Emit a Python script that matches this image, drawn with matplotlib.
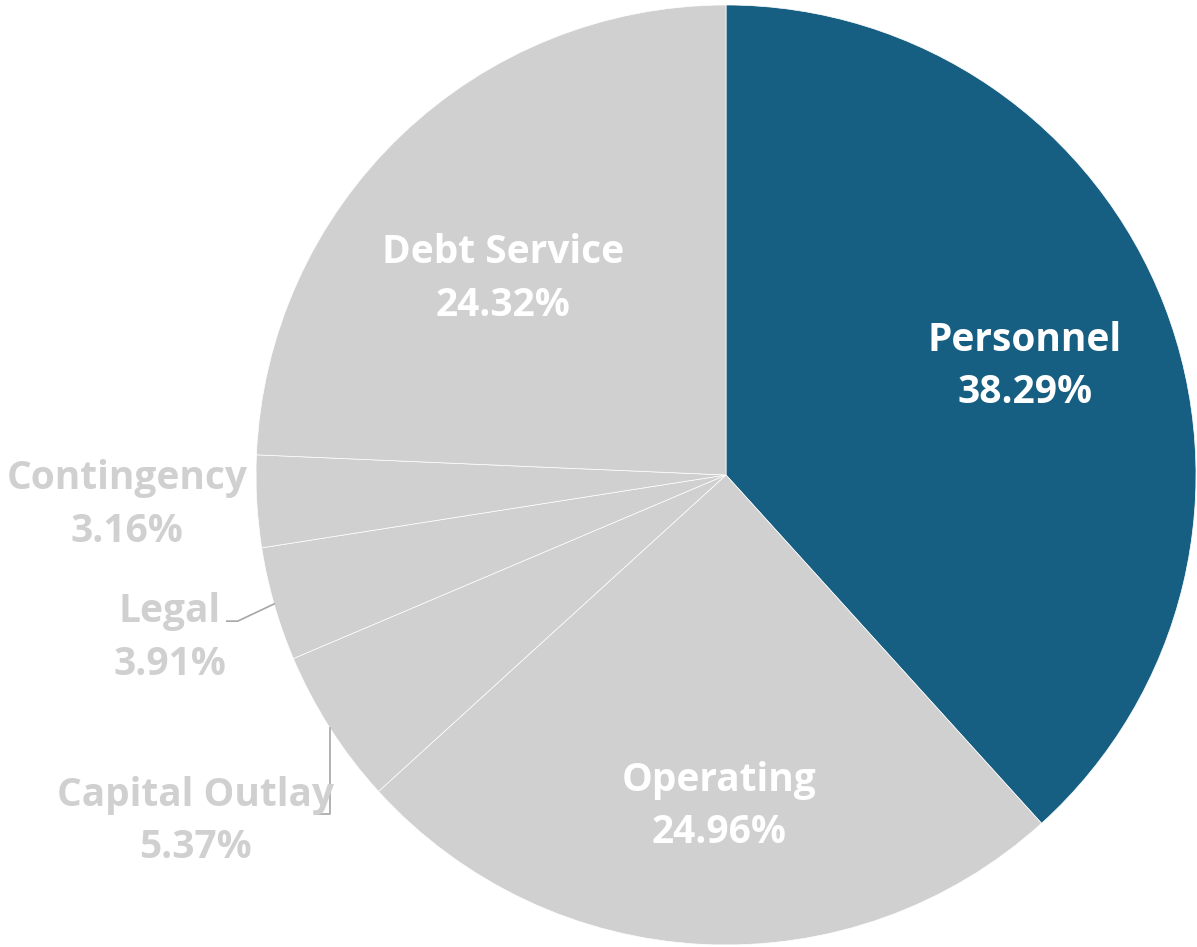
import numpy as np
import matplotlib.pyplot as plt

categories = ["Personnel", "Operating", "Capital Outlay", "Legal", "Contingency", "Debt Service"]
shares = [38.29, 24.96, 5.37, 3.91, 3.16, 24.32]

BLUE = "#175f82"
GREY = "#d0d0d0"
colors = [BLUE, GREY, GREY, GREY, GREY, GREY]

# label block centres (data units, pie radius = 1) and text colour
label_pos = [(0.636, 0.231), (-0.015, -0.705), (-1.128, -0.737),
             (-1.183, -0.347), (-1.274, -0.064), (-0.474, 0.417)]
label_col = ["white", "white", GREY, GREY, GREY, "white"]

plt.rcParams['font.family'] = ['Open Sans', 'DejaVu Sans']

fig = plt.figure(figsize=(11.97, 9.47), dpi=100)
ax = fig.add_axes([0, 0, 1, 1])
ax.pie(shares, colors=colors, startangle=90, counterclock=False, radius=1,
       wedgeprops=dict(edgecolor="white", linewidth=0.5))
ax.set_xlim(-1.5447, 1.0021)
ax.set_ylim(-1.0043, 1.0106)
ax.set_aspect("equal")
ax.axis("off")

for name, val, (x, y), c in zip(categories, shares, label_pos, label_col):
    ax.text(x, y, f"{name}\n{val:.2f}%", ha="center", va="center",
            fontsize=28, fontweight="bold", color=c, linespacing=1.45)

# leader lines for the two small slices sitting outside the pie
cum = np.cumsum([0] + shares[:-1])
def edge_point(i):
    mid = (cum[i] + shares[i] / 2) / 100 * 2 * np.pi
    return np.sin(mid), np.cos(mid)

lx, ly = edge_point(3)
ax.plot([lx, -1.039, -1.062], [ly, -0.311, -0.311], color="#a6a6a6", lw=1.2)
cx, cy = edge_point(2)
ax.plot([cx, cx, -0.872], [cy, -0.721, -0.721], color="#a6a6a6", lw=1.2)

fig.savefig("out.png", dpi=100)
